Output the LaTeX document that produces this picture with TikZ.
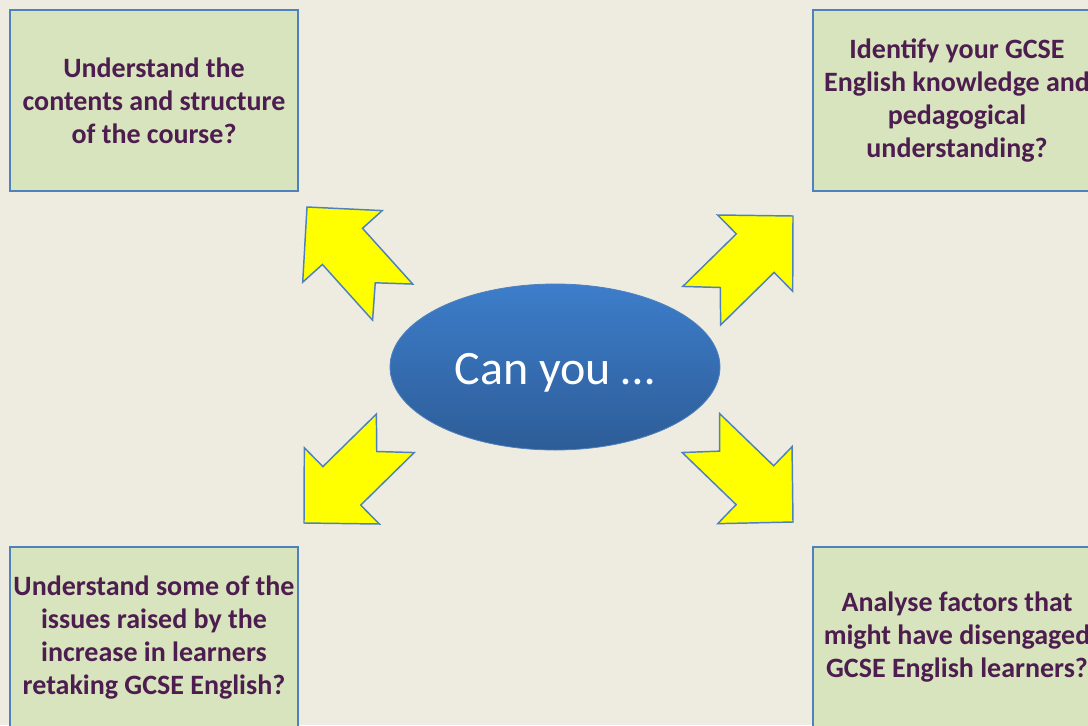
\documentclass[tikz,border=0pt]{standalone}
\usepackage{fontspec}
\setmainfont{Carlito}
\usetikzlibrary{positioning,shapes.geometric}
\definecolor{slidebg}{HTML}{EEECE1}
\definecolor{boxgreen}{HTML}{D7E4BD}
\definecolor{boxblue}{HTML}{4F81BD}
\definecolor{plum}{HTML}{4D1D4F}
\definecolor{ovaltop}{HTML}{3D7DCA}
\definecolor{ovalbot}{HTML}{2D5D98}
\definecolor{arrowyellow}{HTML}{FFFF00}

\begin{document}
\begin{tikzpicture}[x=0.75pt,y=-0.75pt]
            \tikzset{
                goal/.style={draw=boxblue,line width=1.1pt,fill=boxgreen,minimum width=216pt,minimum height=135.75pt,
                    text=plum,font=\fontsize{21}{24.75}\selectfont\bfseries,align=center,inner sep=0pt},
                yellowarrow/.style={draw=boxblue,line width=1.1pt,fill=arrowyellow,line join=miter},}
            \def\arrowpath{(0,0) -- (-53,53.5) -- (-53,27) -- (-128,27) -- (-102,0) -- (-128,-27) -- (-53,-27) -- (-53,-53.5) -- cycle}
            \useasboundingbox (0,0) rectangle (1088,725);
            \clip (0,0) rectangle (1088,725);
            \fill [slidebg] (0,0) rectangle (1088,725);
            \node [goal] (course) at (154,100.5) {Understand the\\contents and structure\\of the course?};
            \node [goal] (knowledge) at (957,100.5) {Identify your GCSE\\English knowledge and\\pedagogical\\understanding?};
            \node [goal] (issues) at (154,637.5) {Understand some of the\\issues raised by the\\increase in learners\\retaking GCSE English?};
            \node [goal] (factors) at (957,637.5) {Analyse factors that\\might have disengaged\\GCSE English learners?};
            \node [ellipse,draw=boxblue,line width=0.6pt,top color=ovaltop,bottom color=ovalbot,minimum width=247.5pt,minimum height=124.5pt,
                inner sep=0pt,text height=33pt,text depth=7pt,text=white,font=\fontsize{36}{40}\selectfont] (canyou) at (555,367) {Can you …};
            % arrows out of the oval
            \draw [yellowarrow,shift={(307,207)},rotate=132] \arrowpath;
            \draw [yellowarrow,shift={(793,216)},rotate=44.5] \arrowpath;
            \draw [yellowarrow,shift={(304,523)},rotate=224.5] \arrowpath;
            \draw [yellowarrow,shift={(793,522)},rotate=-44] \arrowpath;
        \end{tikzpicture}
\end{document}
